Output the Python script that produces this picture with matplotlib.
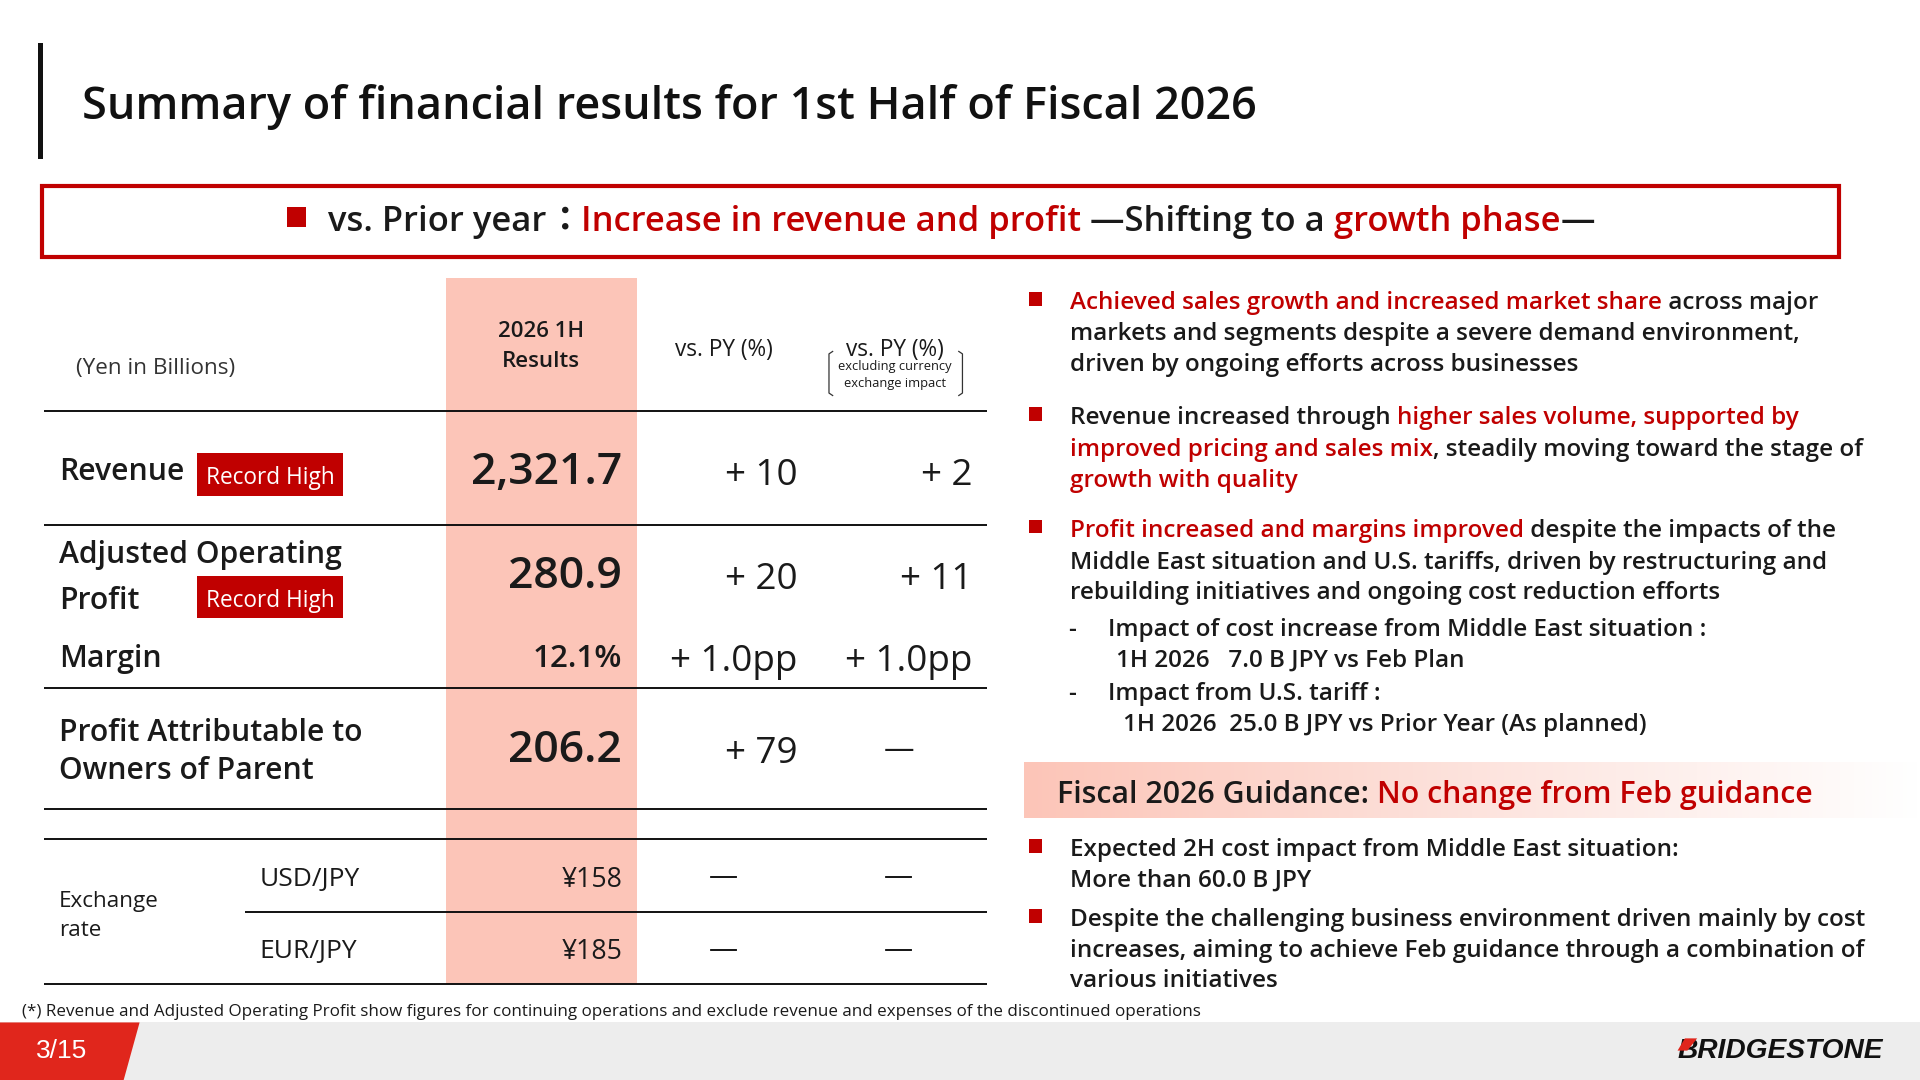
import matplotlib
matplotlib.use("Agg")
import matplotlib.pyplot as plt
from matplotlib.patches import Rectangle, Polygon
from matplotlib.colors import LinearSegmentedColormap
import numpy as np

plt.rcParams['font.family'] = ['Open Sans', 'Noto Sans CJK JP', 'DejaVu Sans']

# ---- data ----
title = "Summary of financial results for 1st Half of Fiscal 2026"
row_labels = ["Revenue", "Adjusted Operating\nProfit", "Margin", "Profit Attributable to\nOwners of Parent"]
results = ["2,321.7", "280.9", "12.1%", "206.2"]
vs_py = ["+ 10", "+ 20", "+ 1.0pp", "+ 79"]
vs_py_fx = ["+ 2", "+ 11", "+ 1.0pp", "—"]
record_high = [True, True, False, False]
fx_pairs = ["USD/JPY", "EUR/JPY"]
fx_rates = ["¥158", "¥185"]
fx_vs_py = ["—", "—"]
fx_vs_py_fx = ["—", "—"]

RED = "#C00000"
TXT = "#1a1a1a"
SALMON = "#FCC5B8"

# slide laid out in 1568 x 882 units, saved at 1920 x 1080
W, H = 1568, 882
S = 1920 / W
fig = plt.figure(figsize=(19.2, 10.8), dpi=100)
ax = fig.add_axes([0, 0, 1, 1])
ax.set_xlim(0, W)
ax.set_ylim(H, 0)
ax.axis('off')
r = fig.canvas.get_renderer()


def tw(s, size, weight='normal'):
    # width of a string in slide units (trailing spaces counted)
    t = ax.text(0, 0, s + "|", fontsize=size, fontweight=weight)
    w = t.get_window_extent(r).width
    t.set_text("|")
    w -= t.get_window_extent(r).width
    t.remove()
    return w / S


def runs(x, y, parts, size, weight='normal', fit=None, ha='left'):
    full = "".join(p for p, c in parts)
    if fit:
        size = size * fit / tw(full, size, weight)
    total = tw(full, size, weight)
    if ha == 'right':
        x = x - total
    elif ha == 'center':
        x = x - total / 2
    pre = ""
    for p, c in parts:
        ax.text(x + tw(pre, size, weight), y, p, fontsize=size, fontweight=weight,
                color=c, va='center_baseline', ha='left')
        pre += p
    return size


def txt(x, y, s, size, weight='normal', color=TXT, ha='left', **kw):
    return ax.text(x, y, s, fontsize=size, fontweight=weight, color=color,
                   ha=ha, va='center_baseline', **kw)


def hline(y, x0=36, x1=806, lw=1.4):
    ax.plot([x0, x1], [y, y], color="#111111", lw=lw, solid_capstyle='butt')


# ---- title ----
ax.add_patch(Rectangle((31, 35), 4, 95, color="#111111", lw=0))
runs(67, 83, [(title, "#111111")], 30, weight='semibold', fit=958)

# ---- banner ----
ax.add_patch(Rectangle((34, 152), 1468, 58, fill=False, ec=RED, lw=3))
ax.add_patch(Rectangle((234, 169), 16, 16, color=RED, lw=0))
runs(268, 178, [("vs. Prior year", TXT), ("：", TXT), ("Increase in revenue and profit", RED),
                (" —Shifting to a ", TXT), ("growth phase", RED), ("—", TXT)],
     22, weight='semibold', fit=1030)

# ---- table ----
ax.add_patch(Rectangle((364, 227), 156, 577, color=SALMON, lw=0))
txt(62, 299, "(Yen in Billions)", 16.2, color="#333333")
txt(442, 269, "2026 1H", 16, weight='semibold', ha='center')
txt(442, 293, "Results", 16, weight='semibold', ha='center')
txt(591, 283, "vs. PY (%)", 16.3, ha='center')
txt(731, 283, "vs. PY (%)", 16.3, ha='center')
txt(731, 298, "excluding currency", 9.3, ha='center')
txt(731, 312, "exchange impact", 9.3, ha='center')
for bx, d in [(677, 1), (786, -1)]:
    ax.plot([bx + 3 * d, bx, bx, bx + 3 * d], [287, 289, 321, 323], color="#333333", lw=0.9)
hline(336)

label_x = 48
val_x, py_x, fx_x = 508, 651, 794
row_y = [383, 468, 535, 610]
label_y = [[383], [450, 488], [535], [596, 627]]
badge_y = [388, 488]
big = [True, True, False, True]
for i in range(len(row_labels)):
    for ly, part in zip(label_y[i], row_labels[i].split("\n")):
        txt(label_x, ly, part, 21.7, weight='semibold')
    vs = 32 if big[i] else 22.6
    txt(val_x, row_y[i] - (1 if big[i] else 0), results[i], vs, weight='semibold', ha='right')
    py_y = row_y[i] + 2
    txt(py_x, py_y, vs_py[i], 26.5, ha='right')
    if vs_py_fx[i] == "—":
        txt(734, py_y - 2, vs_py_fx[i], 22, ha='center')
    else:
        txt(fx_x, py_y, vs_py_fx[i], 26.5, ha='right')
bi = 0
for i in range(len(row_labels)):
    if record_high[i]:
        by = badge_y[bi]
        ax.add_patch(Rectangle((161, by - 18), 119, 35, color=RED, lw=0))
        txt(220.5, by, "Record High", 16.3, color="white", ha='center')
        bi += 1
hline(429)
hline(562)
hline(661)
hline(685)
hline(745, x0=200)
hline(804)

txt(48, 734, "Exchange", 16.2)
txt(48, 758, "rate", 16.2)
fx_y = [716, 775]
for i in range(len(fx_pairs)):
    txt(212, fx_y[i], fx_pairs[i], 19)
    txt(val_x, fx_y[i], fx_rates[i], 19.2, ha='right')
    txt(591, fx_y[i] - 2, fx_vs_py[i], 21, ha='center')
    txt(734, fx_y[i] - 2, fx_vs_py_fx[i], 21, ha='center')

# ---- right column bullets ----
BS = 16
bx, tx = 840, 874


def bullet(y):
    ax.add_patch(Rectangle((bx, y - 6.5), 11, 11, color=RED, lw=0))


bsize = runs(tx, 270, [("markets and segments despite a severe demand environment,", TXT)],
             BS, weight='semibold', fit=599)

bullet(245)
runs(tx, 245, [("Achieved sales growth and increased market share", RED), (" across major", TXT)], bsize, 'semibold')
runs(tx, 296, [("driven by ongoing efforts across businesses", TXT)], bsize, 'semibold')

bullet(339)
runs(tx, 339, [("Revenue increased through ", TXT), ("higher sales volume, supported by", RED)], bsize, 'semibold')
runs(tx, 365, [("improved pricing and sales mix", RED), (", steadily moving toward the stage of", TXT)], bsize, 'semibold')
runs(tx, 390, [("growth with quality", RED)], bsize, 'semibold')

bullet(431)
runs(tx, 431, [("Profit increased and margins improved", RED), (" despite the impacts of the", TXT)], bsize, 'semibold')
runs(tx, 457, [("Middle East situation and U.S. tariffs, driven by restructuring and", TXT)], bsize, 'semibold')
runs(tx, 482, [("rebuilding initiatives and ongoing cost reduction efforts", TXT)], bsize, 'semibold')
txt(872, 512, "-", bsize, weight='semibold')
runs(905, 512, [("Impact of cost increase from Middle East situation :", TXT)], bsize, 'semibold')
runs(911, 537, [("1H 2026   7.0 B JPY vs Feb Plan", TXT)], bsize, 'semibold')
txt(872, 564, "-", bsize, weight='semibold')
runs(905, 564, [("Impact from U.S. tariff :", TXT)], bsize, 'semibold')
runs(917, 590, [("1H 2026  25.0 B JPY vs Prior Year (As planned)", TXT)], bsize, 'semibold')

# guidance box with fading fill
grad = np.linspace(0, 1, 256).reshape(1, -1)
cmap = LinearSegmentedColormap.from_list("fade", [SALMON, "#FDE3DD", "#FFFFFF"])
ax.imshow(grad, extent=(836, 1568, 668, 623), cmap=cmap, aspect='auto', zorder=0)
runs(863, 646, [("Fiscal 2026 Guidance: ", TXT), ("No change from Feb guidance", RED)],
     20, weight='semibold', fit=618)

bullet(692)
runs(tx, 692, [("Expected 2H cost impact from Middle East situation:", TXT)], bsize, 'semibold')
runs(tx, 717, [("More than 60.0 B JPY", TXT)], bsize, 'semibold')
bullet(749)
runs(tx, 749, [("Despite the challenging business environment driven mainly by cost", TXT)], bsize, 'semibold')
runs(tx, 774, [("increases, aiming to achieve Feb guidance through a combination of", TXT)], bsize, 'semibold')
runs(tx, 799, [("various initiatives", TXT)], bsize, 'semibold')

# ---- footnote ----
runs(18, 825, [("(*) Revenue and Adjusted Operating Profit show figures for continuing operations "
                "and exclude revenue and expenses of the discontinued operations", TXT)],
     10, fit=961)

# ---- footer ----
ax.add_patch(Rectangle((0, 835), W, 47, color="#EDEDED", lw=0))
ax.add_patch(Polygon([(0, 835), (114, 835), (101, 882), (0, 882)], closed=True, color="#E0261C", lw=0))
ax.text(50, 858, "3/15", fontsize=19, color="white", family='Liberation Sans', ha='center', va='center')
logo = ax.text(1538, 858, "BRIDGESTONE", fontsize=17, fontweight='bold', fontstyle='italic',
               family='Liberation Sans', color="#111111", ha='right', va='center')
lw_ = logo.get_window_extent(r).width / S
logo.set_fontsize(17 * 168 / lw_)
ax.add_patch(Polygon([(1376, 848), (1386, 848), (1378, 858), (1370, 858)], closed=True, color="#E0261C", lw=0, zorder=5))

fig.savefig("out.png", dpi=100)
